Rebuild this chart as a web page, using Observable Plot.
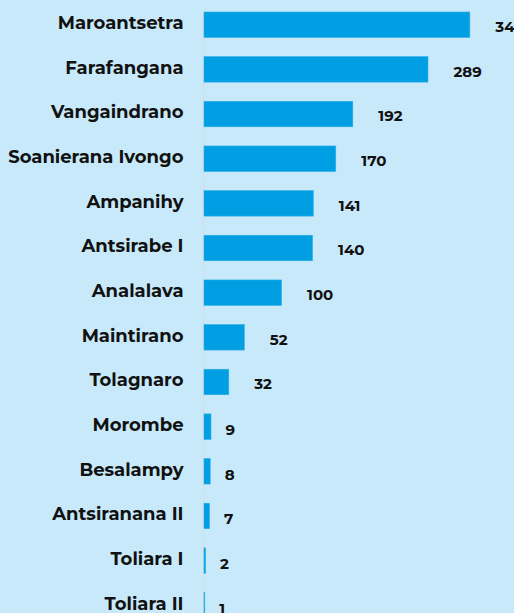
<!DOCTYPE html>
<html>
<head>
<meta charset="utf-8">
<script src="https://cdn.jsdelivr.net/npm/d3@7"></script>
<script src="https://cdn.jsdelivr.net/npm/@observablehq/plot@0.6"></script>
<style>
  html, body { margin: 0; padding: 0; background: #c7e9f9; }
  #chart svg { display: block; }
</style>
</head>
<body>
<div id="chart"></div>
<script>
const districts = ["Maroantsetra", "Farafangana", "Vangaindrano", "Soanierana Ivongo", "Ampanihy", "Antsirabe I", "Analalava", "Maintirano", "Tolagnaro", "Morombe", "Besalampy", "Antsiranana II", "Toliara I", "Toliara II"];
const counts = [343, 289, 192, 170, 141, 140, 100, 52, 32, 9, 8, 7, 2, 1];

const data = districts.map((d, i) => ({district: d, count: counts[i]}));
const font = "Montserrat, 'Open Sans', sans-serif";

const chart = Plot.plot({
  width: 514,
  height: 613,
  marginLeft: 204,
  marginRight: 0,
  marginTop: 12,
  marginBottom: -5,
  style: {background: "transparent", fontFamily: font},
  x: {domain: [0, 400], axis: null},
  y: {domain: districts, paddingInner: 0.43, paddingOuter: 0, round: false, label: null},
  marks: [
    Plot.ruleX([0], {stroke: "#d6dde2", strokeWidth: 1, dx: -1}),
    Plot.barX(data, {x: "count", y: "district", fill: "#009fe3", stroke: "#2aaee8", strokeWidth: 0.6}),
    Plot.text(data.filter(d => d.count >= 10), {x: "count", y: "district", text: d => String(d.count), textAnchor: "start", dx: 25, dy: 2, fontSize: 15, fontWeight: "bold", fill: "#111"}),
    Plot.text(data.filter(d => d.count < 10), {x: "count", y: "district", text: d => String(d.count), textAnchor: "start", dx: 14, dy: 3, fontSize: 15, fontWeight: "bold", fill: "#111"}),
    Plot.axisY({tickSize: 0, tickPadding: 21, fontSize: 18, fontWeight: "bold", fill: "#111", label: null, dy: -2})
  ]
});
document.getElementById("chart").appendChild(chart);
</script>
</body>
</html>
